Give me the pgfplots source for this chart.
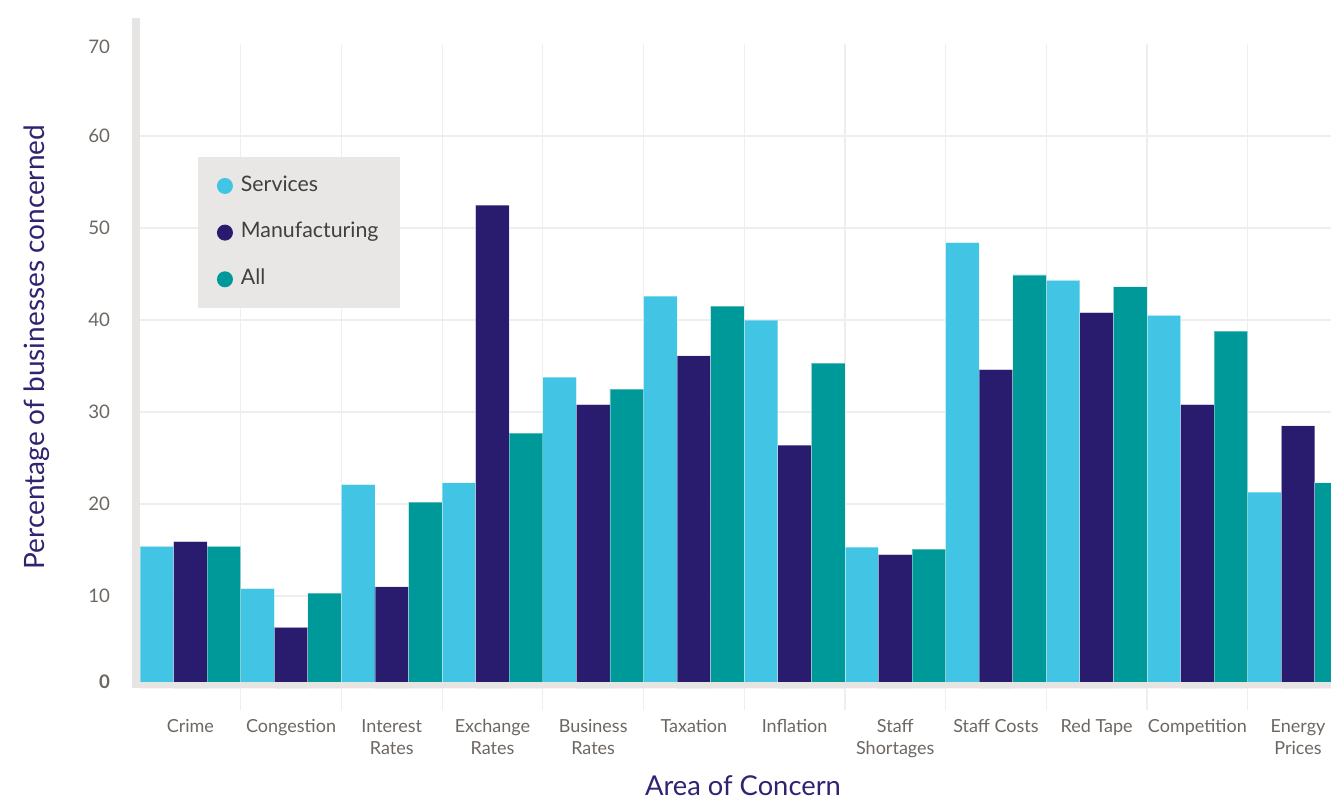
\documentclass[border=0pt]{standalone}
\usepackage{fontspec}
\setmainfont{Lato}
\usepackage{pgfplots}
\usepackage{pgfplotstable}
\pgfplotsset{compat=1.18}
\definecolor{cS}{HTML}{42C4E4}
\definecolor{cM}{HTML}{291C6E}
\definecolor{cA}{HTML}{009999}
\definecolor{tickgray}{HTML}{6D6661}
\definecolor{labpurple}{HTML}{2E2470}
\definecolor{axgray}{HTML}{E6E5E3}
\definecolor{gridgray}{HTML}{EEEEEE}
\definecolor{leggray}{HTML}{E8E7E5}

\pgfplotstableread{
x  S     M     A
0  15.4  15.9  15.4
1  10.8  6.6   10.3
2  22.1  11.0  20.2
3  22.3  52.5  27.7
4  33.8  30.8  32.5
5  42.6  36.1  41.5
6  40.0  26.4  35.3
7  15.3  14.5  15.1
8  48.4  34.6  44.9
9  44.3  40.8  43.6
10 40.5  30.8  38.8
11 21.3  28.5  22.3
}\datatable

\begin{document}
\begin{tikzpicture}[x=0.75pt,y=0.75pt]
\useasboundingbox (0,0) rectangle (1331,800);
\begin{axis}[
  at={(105pt,84pt)}, anchor=south west,
  scale only axis, width=893.25pt, height=483pt,
  xmin=-0.5, xmax=11.327, ymin=0, ymax=70,
  axis line style={draw=none},
  ybar, bar width=0.3333,
  xtick={0,...,11},
  xticklabels={Crime,Congestion,{Interest\\Rates},{Exchange\\Rates},{Business\\Rates},Taxation,Inflation,{Staff\\Shortages},Staff Costs,Red Tape,Competition,{Energy\\Prices}},
  xticklabel style={align=center, font=\fontsize{13.5}{16.5}\selectfont, text=tickgray, yshift=-20pt},
  minor xtick={0.5,1.5,...,10.5},
  xminorgrids=true,
  minor grid style={draw=gridgray, line width=0.9pt},
  minor tick length=16.5pt,
  major tick length=0pt,
  tick align=outside,
  xtick pos=bottom, ytick pos=left,
  tick style={draw=gridgray, line width=0.9pt},
  ytick={10,20,...,60},
  ymajorgrids=true,
  major grid style={draw=gridgray, line width=0.9pt},
  extra y ticks={0,70},
  extra y tick labels={\raisebox{4.5pt}[\height][\depth]{\textbf{0}},\raisebox{-2pt}[\height][\depth]{70}},
  extra y tick style={grid=none},
  yticklabel style={font=\fontsize{14}{16}\selectfont, text=tickgray, xshift=-19pt},
  /pgf/number format/assume math mode=true,
  xlabel={Area of Concern},
  xlabel style={at={(axis description cs:0.5063,-0.167)}, anchor=base, font=\fontsize{20.5}{24}\selectfont, text=labpurple},
  ylabel={Percentage of businesses concerned},
  ylabel style={at={(axis description cs:-0.0865,0.5295)}, anchor=center, font=\fontsize{21}{24}\selectfont, text=labpurple},
  legend style={at={(axis description cs:0.0487,0.8245)}, anchor=north west, fill=leggray, draw=none,
    font=\fontsize{16}{19}\selectfont, text=black!75, inner xsep=14pt, inner ysep=12pt, row sep=16pt, column sep=4pt,
    nodes={text height=11.5pt, text depth=3.5pt}},
  legend cell align=left,
  legend image code/.code={\fill[#1,draw=none] (6pt,0pt) circle (6pt);},
]
\addplot[fill=cS, draw=white, draw opacity=0.35, line width=0.6pt, bar shift=-0.3333] table[x=x,y=S]{\datatable};
\addplot[fill=cM, draw=white, draw opacity=0.35, line width=0.6pt, bar shift=0] table[x=x,y=M]{\datatable};
\addplot[fill=cA, draw=white, draw opacity=0.35, line width=0.6pt, bar shift=0.3333] table[x=x,y=A]{\datatable};
\legend{Services,Manufacturing,All}
\end{axis}
\fill[axgray] (132,112) rectangle (1331,118);
\fill[axgray] (132,112) rectangle (140,782);
\end{tikzpicture}
\end{document}
